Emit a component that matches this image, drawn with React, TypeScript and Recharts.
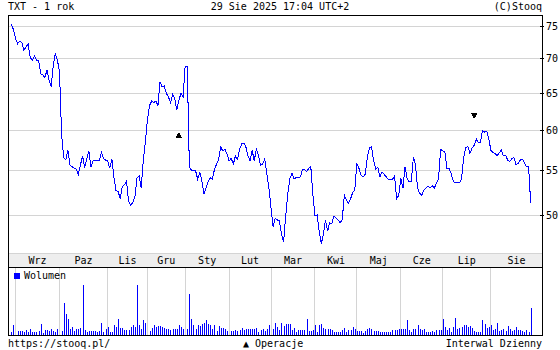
import { Bar, CartesianGrid, ComposedChart, Legend, Line, ReferenceLine, Scatter, XAxis, YAxis } from 'recharts'

const INK = '#000000'
const BLUE = '#0000ff'
const GRID = '#d4d4d4'
const BAND = '#eeeeee'
const MONO = '"DejaVu Sans Mono", monospace'

// months on the axis (trading days in each), plus two days of August 2024 before them
const MONTHS = ['Wrz', 'Paz', 'Lis', 'Gru', 'Sty', 'Lut', 'Mar', 'Kwi', 'Maj', 'Cze', 'Lip', 'Sie']
const MONTH_DAYS = [21, 23, 19, 18, 21, 20, 21, 20, 21, 20, 23, 20]
const LEAD_DAYS = 2

const PRICE_TICKS = [50, 55, 60, 65, 70, 75]

// daily close, PLN
const PRICE = [
  75.4, 74.5, 73.1, 72.3, 72.7, 72.5, 71.3, 71.8, 72.3, 70.2,
  69.8, 70.4, 69.8, 69.8, 67.8, 67.6, 67.2, 68.3, 66.9, 65.9,
  69.0, 70.8, 69.8, 68.0, 59.5, 56.6, 56.3, 57.5, 55.7, 55.5,
  55.3, 55.2, 54.6, 55.7, 56.8, 55.4, 56.4, 57.4, 55.5, 56.2,
  56.3, 56.3, 56.2, 57.2, 56.5, 56.3, 56.2, 55.3, 56.4, 54.2,
  52.7, 52.6, 51.8, 53.2, 53.4, 53.8, 51.5, 51.1, 51.4, 52.0,
  54.2, 54.4, 53.0, 56.2, 58.6, 61.4, 63.3, 63.9, 63.7, 63.9,
  63.3, 66.6, 65.9, 66.0, 65.0, 64.5, 63.7, 64.8, 64.3, 62.7,
  64.0, 65.0, 64.5, 68.9, 68.9, 55.5, 55.1, 55.0, 55.0, 54.0,
  54.9, 53.8, 52.4, 53.0, 53.8, 54.2, 54.0, 55.2, 55.8, 56.4,
  57.9, 57.4, 57.6, 57.0, 56.2, 56.5, 55.8, 56.8, 56.4, 57.6,
  58.3, 58.4, 57.9, 56.8, 56.2, 57.5, 56.2, 57.7, 56.8, 55.7,
  55.8, 56.4, 54.7, 53.0, 50.8, 48.8, 49.7, 49.5, 49.4, 48.0,
  47.2, 49.9, 52.4, 54.1, 54.7, 54.1, 54.2, 54.2, 54.3, 55.1,
  55.2, 54.9, 55.3, 55.5, 52.2, 49.9, 50.0, 48.3, 47.0, 48.0,
  49.5, 48.3, 49.2, 49.1, 49.9, 49.7, 49.5, 49.2, 49.5, 52.2,
  51.7, 51.3, 51.8, 52.5, 52.8, 55.9, 55.3, 54.5, 54.3, 54.6,
  56.6, 57.8, 57.9, 56.2, 55.2, 55.4, 54.3, 54.9, 54.6, 54.3,
  54.0, 54.0, 54.0, 54.4, 51.8, 52.2, 54.1, 53.0, 55.5, 54.1,
  53.7, 53.8, 56.7, 55.7, 53.0, 52.4, 52.2, 52.8, 53.0, 53.2,
  53.0, 53.3, 53.0, 53.6, 54.1, 57.6, 57.4, 57.3, 55.3, 55.3,
  54.7, 53.8, 53.6, 53.6, 53.6, 54.1, 56.6, 57.8, 58.0, 57.1,
  57.8, 58.1, 58.9, 58.4, 58.5, 60.0, 59.8, 59.9, 58.9, 57.5,
  57.2, 57.1, 56.8, 57.2, 57.5, 56.8, 56.9, 56.3, 56.1, 56.5,
  56.6, 55.7, 55.9, 56.3, 56.4, 56.0, 55.5, 55.5, 51.3
]

// daily volume, thousand shares
const VOLUME = [
  3, 10, 4, 4, 4, 4, 3, 5, 3, 6,
  3, 3, 3, 4, 11, 2, 5, 5, 4, 6,
  4, 3, 6, 4, 4, 32, 21, 16, 6, 8,
  4, 6, 6, 7, 49, 5, 3, 4, 4, 4,
  4, 3, 4, 12, 3, 6, 8, 3, 3, 10,
  8, 16, 7, 7, 5, 5, 5, 8, 10, 8,
  49, 10, 6, 15, 12, 12, 4, 7, 10, 8,
  9, 9, 8, 7, 6, 6, 5, 6, 6, 6,
  10, 8, 6, 8, 6, 40, 16, 10, 6, 10,
  9, 11, 12, 15, 11, 10, 6, 10, 4, 9,
  7, 7, 6, 4, 4, 4, 4, 5, 4, 5,
  7, 5, 6, 6, 6, 6, 6, 7, 3, 5,
  6, 4, 6, 10, 11, 6, 12, 8, 5, 12,
  9, 11, 11, 11, 5, 7, 3, 5, 5, 5,
  5, 16, 4, 4, 5, 10, 3, 10, 11, 7,
  6, 6, 6, 5, 3, 3, 3, 3, 5, 7,
  3, 5, 5, 8, 6, 4, 4, 4, 2, 4,
  6, 7, 6, 4, 4, 4, 3, 3, 3, 3,
  3, 3, 5, 5, 5, 6, 6, 6, 6, 15,
  5, 3, 6, 6, 10, 6, 5, 6, 3, 3,
  3, 4, 3, 5, 5, 5, 16, 8, 5, 7,
  3, 8, 17, 6, 7, 8, 10, 10, 8, 9,
  7, 4, 3, 3, 3, 15, 11, 7, 8, 10,
  5, 6, 12, 4, 5, 6, 4, 9, 6, 4,
  5, 8, 5, 5, 4, 3, 5, 3, 27
]

// corporate operations: session index, level of the marker, direction
const OPERATIONS = [
  { i: 80, p: 59.4, dir: 'up' },
  { i: 221, p: 61.9, dir: 'down' }
]

const X_DOMAIN: [number, number] = [-1.6, 253.4]
const Y_DOMAIN: [number, number] = [46.1, 76.9]
const VOL_DOMAIN: [number, number] = [0, 66]

const monthStarts: number[] = []
MONTH_DAYS.reduce((s, d) => {
  monthStarts.push(s)
  return s + d
}, LEAD_DAYS)
const monthMids = monthStarts.map((s, k) => (s + (monthStarts[k + 1] ?? X_DOMAIN[1])) / 2)

const priceData = PRICE.map((p, i) => ({ i, p }))
const volumeData = VOLUME.map((v, i) => ({ i, v }))

const tickText = { fill: INK, fontSize: 10, fontFamily: MONO }

function OperationMark(props: any) {
  const { cx, cy, payload } = props
  const d =
    payload.dir === 'up'
      ? `M${cx - 3.5},${cy + 3}L${cx + 3.5},${cy + 3}L${cx},${cy - 3}Z`
      : `M${cx - 3.5},${cy - 3}L${cx + 3.5},${cy - 3}L${cx},${cy + 3}Z`
  return <path d={d} fill={INK} />
}

const abs = (s: React.CSSProperties): React.CSSProperties => ({ position: 'absolute', lineHeight: '12px', whiteSpace: 'pre', ...s })

// month-start axis: carries the short inward tick marks on the top edge of a panel
function monthGridAxis(id: string) {
  return (
    <XAxis
      xAxisId={id}
      type="number"
      dataKey="i"
      domain={X_DOMAIN}
      ticks={monthStarts}
      allowDataOverflow
      orientation="top"
      mirror
      height={0}
      tick={false}
      axisLine={false}
      tickSize={3}
      tickLine={{ stroke: INK }}
    />
  )
}

export default function App() {
  return (
    <div
      style={{
        position: 'absolute',
        left: 0,
        top: 0,
        width: 560,
        height: 350,
        background: '#fff',
        fontFamily: MONO,
        fontSize: 10,
        color: INK,
        overflow: 'hidden'
      }}
    >
      <style>{'.recharts-surface{shape-rendering:crispEdges}'}</style>

      <div style={abs({ left: 8, top: 1 })}>TXT - 1 rok</div>
      <div style={abs({ left: 0, top: 1, width: 560, textAlign: 'center' })}>29 Sie 2025 17:04 UTC+2</div>
      <div style={abs({ right: 18, top: 1 })}>(C)Stooq</div>

      <div
        style={{
          position: 'absolute',
          left: 8,
          top: 253,
          width: 535,
          height: 15,
          boxSizing: 'border-box',
          background: BAND,
          borderTop: `1px solid ${INK}`,
          borderBottom: `1px solid ${INK}`
        }}
      />

      <div style={{ position: 'absolute', left: 8, top: 15 }}>
        <ComposedChart width={552} height={252} data={priceData} margin={{ top: 0, right: 0, bottom: 0, left: 0 }}>
          <CartesianGrid stroke={GRID} xAxisId="g" yAxisId="r" />
          {monthGridAxis('g')}
          <XAxis
            xAxisId="m"
            type="number"
            dataKey="i"
            domain={X_DOMAIN}
            ticks={monthMids}
            allowDataOverflow
            interval={0}
            height={14}
            axisLine={false}
            tickLine={false}
            tickSize={0}
            tickMargin={4}
            tick={tickText}
            tickFormatter={(_v: number, k: number) => MONTHS[k]}
          />
          <YAxis
            yAxisId="r"
            orientation="right"
            width={18}
            type="number"
            dataKey="p"
            scale="log"
            domain={Y_DOMAIN}
            ticks={PRICE_TICKS}
            allowDataOverflow
            interval={0}
            axisLine={false}
            tickSize={4}
            tickMargin={0}
            tickLine={{ stroke: INK, transform: 'translate(-2 0)' }}
            tick={tickText}
          />
          <YAxis
            yAxisId="l"
            orientation="left"
            width={0}
            mirror
            type="number"
            scale="log"
            domain={Y_DOMAIN}
            ticks={PRICE_TICKS}
            allowDataOverflow
            axisLine={false}
            tick={false}
            tickSize={3}
            tickLine={{ stroke: INK }}
          />
          <Line
            xAxisId="m"
            yAxisId="r"
            type="linear"
            dataKey="p"
            stroke={BLUE}
            strokeWidth={1}
            dot={false}
            isAnimationActive={false}
          />
          <Scatter
            xAxisId="m"
            yAxisId="r"
            data={OPERATIONS}
            dataKey="p"
            shape={OperationMark}
            isAnimationActive={false}
          />
        </ComposedChart>
      </div>

      <div style={{ position: 'absolute', left: 8, top: 268 }}>
        <ComposedChart width={534} height={67} data={volumeData} margin={{ top: 0, right: 0, bottom: 0, left: 0 }}>
          {monthGridAxis('vg')}
          <YAxis
            yAxisId="v"
            width={0}
            type="number"
            dataKey="v"
            domain={VOL_DOMAIN}
            allowDataOverflow
            tick={false}
            axisLine={false}
            tickLine={false}
          />
          {monthStarts.map((s) => (
            <ReferenceLine key={s} xAxisId="vg" yAxisId="v" x={s} stroke={GRID} strokeWidth={1} />
          ))}
          <Legend
            layout="horizontal"
            align="center"
            verticalAlign="middle"
            iconType="square"
            iconSize={6}
            wrapperStyle={{ left: 6, top: 2, width: 'auto', fontSize: 10, lineHeight: '12px', fontFamily: MONO }}
            formatter={(v: string) => <span style={{ color: INK }}>{v}</span>}
          />
          <Bar
            xAxisId="vg"
            yAxisId="v"
            dataKey="v"
            name="Wolumen"
            fill={BLUE}
            barSize={1}
            isAnimationActive={false}
          />
        </ComposedChart>
      </div>

      <div
        style={{
          position: 'absolute',
          left: 8,
          top: 15,
          width: 535,
          height: 321,
          boxSizing: 'border-box',
          border: `1px solid ${INK}`,
          pointerEvents: 'none'
        }}
      />

      <div style={abs({ left: 8, top: 338 })}>https://stooq.pl/</div>
      <div style={abs({ left: 243, top: 338 })}>▲ Operacje</div>
      <div style={abs({ right: 18, top: 338 })}>Interwal Dzienny</div>
    </div>
  )
}
